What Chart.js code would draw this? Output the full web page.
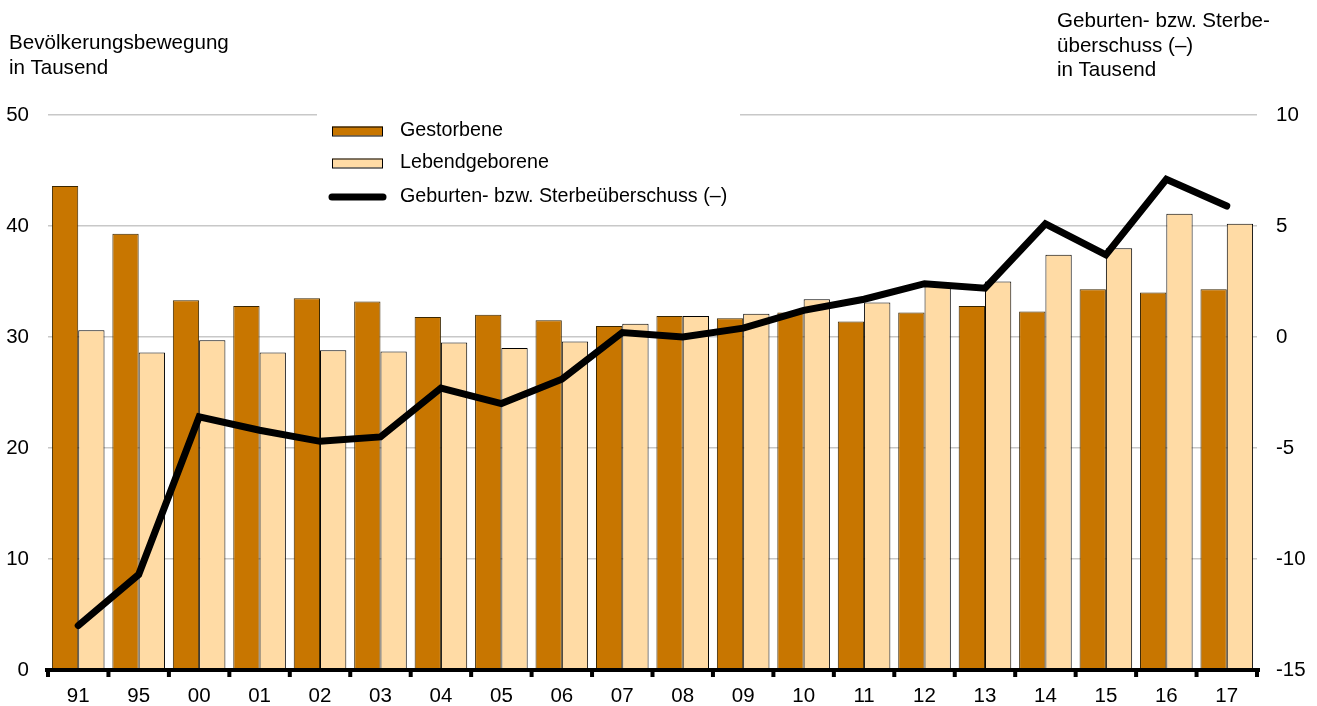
<!DOCTYPE html>
<html lang="de">
<head>
<meta charset="UTF-8">
<title>Bevölkerungsbewegung</title>
<script src="https://cdn.jsdelivr.net/npm/chart.js"></script>
<style>
  body { margin: 0; background: #fff; }
  #wrap { position: relative; width: 1317px; height: 706px; font-family: 'Liberation Sans', Arial, sans-serif; color: #000; }
  .titel { position: absolute; font-size: 20.6px; line-height: 24.5px; white-space: nowrap; }
  #titelLinks { left: 9px; top: 30px; }
  #titelRechts { left: 1057px; top: 8px; }
</style>
</head>
<body>
<div id="wrap">
  <canvas id="myChart" width="1317" height="706"></canvas>
  <div class="titel" id="titelLinks">Bevölkerungsbewegung<br>in Tausend</div>
  <div class="titel" id="titelRechts">Geburten- bzw. Sterbe-<br>überschuss (–)<br>in Tausend</div>
</div>

<script>
// Daten (in Tausend)
const jahre = ['91','95','00','01','02','03','04','05','06','07','08','09','10','11','12','13','14','15','16','17'];
const gestorbene = [43.6, 39.3, 33.3, 32.8, 33.5, 33.2, 31.8, 32.0, 31.5, 31.0, 31.9, 31.7, 32.2, 31.4, 32.2, 32.8, 32.3, 34.3, 34.0, 34.3];
const lebendgeborene = [30.6, 28.6, 29.7, 28.6, 28.8, 28.7, 29.5, 29.0, 29.6, 31.2, 31.9, 32.1, 33.4, 33.1, 34.6, 35.0, 37.4, 38.0, 41.1, 40.2];
const saldo = [-13.0, -10.7, -3.6, -4.2, -4.7, -4.5, -2.3, -3.0, -1.9, 0.2, 0.0, 0.4, 1.2, 1.7, 2.4, 2.2, 5.1, 3.7, 7.1, 5.9];

const ticksLinks = [0, 10, 20, 30, 40, 50];
const ticksRechts = [-15, -10, -5, 0, 5, 10];

const farbeGestorben = '#c87600';
const farbeGeboren = '#ffdba5';
const schrift = "'Liberation Sans', Arial, sans-serif";

Chart.defaults.font.family = schrift;
Chart.defaults.font.size = 20;
Chart.defaults.color = '#000';

// Dicke Grundlinie mit kleinen Strichen zwischen den Jahren
const grundlinie = {
    id: 'grundlinie',
    afterDatasetsDraw(chart) {
        const ctx = chart.ctx;
        const area = chart.chartArea;
        const schritt = (area.right - area.left) / jahre.length;
        ctx.save();
        ctx.fillStyle = '#000';
        ctx.fillRect(area.left - 3, area.bottom - 2, area.right - area.left + 6, 4);
        for (let i = 0; i <= jahre.length; i++) {
            let px = area.left + i * schritt;
            ctx.fillRect(px - 2, area.bottom - 2, 4, 9);
        }
        ctx.restore();
    }
};

// Legende im Diagramm oben
const legende = {
    id: 'legende',
    afterDraw(chart) {
        const ctx = chart.ctx;
        const ds = chart.data.datasets;
        ctx.save();
        ctx.fillStyle = '#fff';
        ctx.fillRect(317, 110, 423, 100);
        ctx.font = '19.7px ' + schrift;
        ctx.textBaseline = 'middle';
        ctx.textAlign = 'left';

        const zeilen = [131, 163, 197];
        // Balken-Symbole
        for (let i = 0; i < 2; i++) {
            ctx.fillStyle = ds[i].backgroundColor;
            ctx.fillRect(332, zeilen[i] - 4.5, 51, 9);
            ctx.strokeStyle = '#000';
            ctx.lineWidth = 1;
            ctx.strokeRect(332.5, zeilen[i] - 4, 50, 9);
        }
        // Linien-Symbol
        ctx.strokeStyle = '#000';
        ctx.lineWidth = 7;
        ctx.lineCap = 'round';
        ctx.beginPath();
        ctx.moveTo(332, zeilen[2]);
        ctx.lineTo(383, zeilen[2]);
        ctx.stroke();

        ctx.fillStyle = '#000';
        for (let i = 0; i < 3; i++) {
            ctx.fillText(ds[i].label, 400, zeilen[i]);
        }
        ctx.restore();
    }
};

const ctx = document.getElementById('myChart').getContext('2d');
const myChart = new Chart(ctx, {
    data: {
        labels: jahre,
        datasets: [
            {
                type: 'bar',
                label: 'Gestorbene',
                data: gestorbene,
                backgroundColor: farbeGestorben,
                borderColor: '#3a2600',
                borderWidth: 1,
                yAxisID: 'y',
                order: 1,
                categoryPercentage: 0.87,
                barPercentage: 1
            },
            {
                type: 'bar',
                label: 'Lebendgeborene',
                data: lebendgeborene,
                backgroundColor: farbeGeboren,
                borderColor: '#000',
                borderWidth: 1,
                yAxisID: 'y',
                order: 1,
                categoryPercentage: 0.87,
                barPercentage: 1
            },
            {
                type: 'line',
                label: 'Geburten- bzw. Sterbeüberschuss (–)',
                data: saldo,
                borderColor: '#000',
                borderWidth: 7,
                borderCapStyle: 'round',
                borderJoinStyle: 'miter',
                pointRadius: 0,
                tension: 0,
                yAxisID: 'y1',
                order: 0
            }
        ]
    },
    options: {
        responsive: false,
        animation: false,
        layout: { padding: { top: 115, left: 0, right: 0, bottom: 0 } },
        plugins: {
            legend: { display: false },
            tooltip: { enabled: false }
        },
        scales: {
            x: {
                grid: { display: false },
                border: { display: false },
                ticks: { padding: 6, maxRotation: 0, autoSkip: false, font: { size: 20.5 } },
                afterFit(scale) { scale.height = 36; }
            },
            y: {
                position: 'left',
                min: 0,
                max: 50,
                afterBuildTicks(scale) { scale.ticks = ticksLinks.map(v => ({ value: v })); },
                grid: { color: '#c8c8c8', lineWidth: 1.5, drawTicks: false },
                border: { display: false },
                ticks: { padding: 19, font: { size: 20.5 } },
                afterFit(scale) { scale.width = 48; }
            },
            y1: {
                position: 'right',
                min: -15,
                max: 10,
                afterBuildTicks(scale) { scale.ticks = ticksRechts.map(v => ({ value: v })); },
                grid: { drawOnChartArea: false, drawTicks: false },
                border: { display: false },
                ticks: { padding: 19, font: { size: 20.5 } },
                afterFit(scale) { scale.width = 60; }
            }
        }
    },
    plugins: [grundlinie, legende]
});
</script>
</body>
</html>
